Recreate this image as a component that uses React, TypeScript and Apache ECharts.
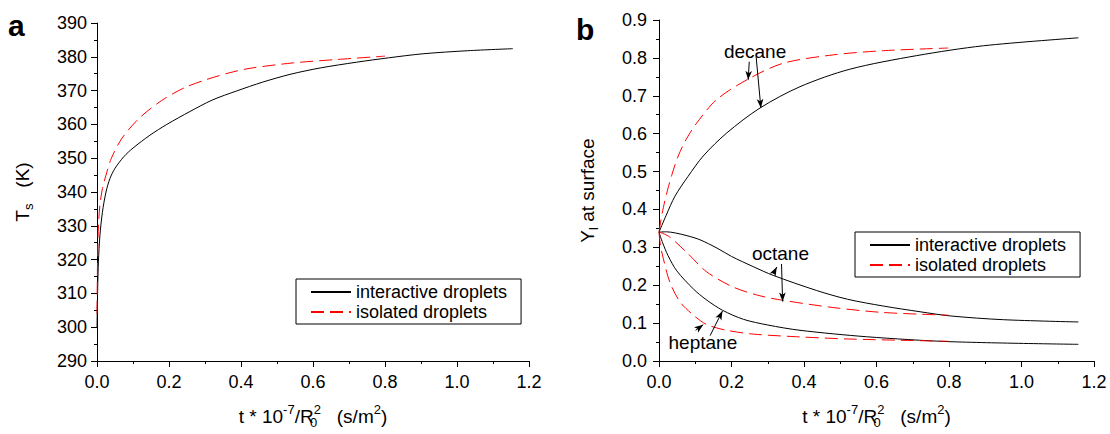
import React, { useEffect, useRef } from 'react';
import * as echarts from 'echarts';

const FONT = '"Liberation Sans", Arial, sans-serif';

// ---- Panel a: surface temperature ----
const tempInterT = [0, 0.002, 0.004, 0.008, 0.015, 0.025, 0.036, 0.05, 0.075, 0.1, 0.147, 0.194, 0.258, 0.32, 0.388, 0.46, 0.536, 0.62, 0.721, 0.81, 0.906, 1.03, 1.155];
const tempInterV = [300, 312, 319.5, 327, 334, 340, 344, 347, 350.5, 353, 356.8, 360, 363.8, 367.2, 369.9, 372.5, 374.8, 376.7, 378.4, 379.7, 380.9, 381.8, 382.4];
const tempIsoT = [0, 0.001, 0.002, 0.004, 0.008, 0.015, 0.025, 0.04, 0.07, 0.119, 0.18, 0.244, 0.305, 0.369, 0.425, 0.545, 0.666, 0.8];
const tempIsoV = [304, 315, 323, 330, 336, 341, 345, 350, 356, 362, 367.1, 370.9, 373.3, 375.3, 376.6, 378.2, 379.2, 380.2];

// ---- Panel b: mass fraction at surface ----
const decInterT = [0, 0.02, 0.044, 0.08, 0.122, 0.187, 0.279, 0.389, 0.526, 0.711, 0.895, 1.157];
const decInterV = [0.34, 0.385, 0.435, 0.487, 0.541, 0.602, 0.668, 0.724, 0.77, 0.806, 0.832, 0.853];
const decIsoT = [0, 0.005, 0.012, 0.023, 0.035, 0.053, 0.075, 0.104, 0.159, 0.246, 0.343, 0.481, 0.619, 0.798];
const decIsoV = [0.34, 0.37, 0.405, 0.449, 0.49, 0.541, 0.585, 0.628, 0.69, 0.744, 0.786, 0.808, 0.819, 0.826];
const octInterT = [0, 0.02, 0.045, 0.08, 0.113, 0.16, 0.2, 0.26, 0.315, 0.435, 0.52, 0.619, 0.72, 0.803, 0.95, 1.157];
const octInterV = [0.34, 0.341, 0.338, 0.33, 0.32, 0.298, 0.276, 0.249, 0.226, 0.186, 0.163, 0.145, 0.13, 0.119, 0.109, 0.103];
const octIsoT = [0, 0.01, 0.03, 0.076, 0.132, 0.205, 0.279, 0.343, 0.481, 0.619, 0.798];
const octIsoV = [0.34, 0.337, 0.327, 0.287, 0.235, 0.195, 0.172, 0.16, 0.141, 0.128, 0.121];
const hepInterT = [0, 0.01, 0.025, 0.049, 0.095, 0.13, 0.175, 0.233, 0.3, 0.389, 0.573, 0.803, 1.157];
const hepInterV = [0.34, 0.312, 0.278, 0.238, 0.19, 0.162, 0.134, 0.11, 0.095, 0.081, 0.064, 0.051, 0.044];
const hepIsoT = [0, 0.004, 0.012, 0.03, 0.058, 0.095, 0.132, 0.187, 0.26, 0.38, 0.526, 0.798];
const hepIsoV = [0.34, 0.305, 0.27, 0.208, 0.156, 0.121, 0.096, 0.081, 0.071, 0.064, 0.058, 0.052];

const seriesNames = ['interactive droplets', 'isolated droplets'];

// annotations (data coordinates of panel b)
const annotationTexts = [
  { text: 'decane', t: 0.265, y: 0.816 },
  { text: 'octane', t: 0.335, y: 0.283 },
  { text: 'heptane', t: 0.121, y: 0.049 },
];
const annotationArrows = [
  [[0.249, 0.79], [0.246, 0.742]],
  [[0.268, 0.803], [0.281, 0.668]],
  [[0.315, 0.23], [0.325, 0.248]],
  [[0.338, 0.256], [0.341, 0.157]],
  [[0.101, 0.081], [0.122, 0.096]],
  [[0.141, 0.067], [0.175, 0.132]],
];

const zip = (xs: number[], ys: number[]) => xs.map((x, i) => [x, ys[i]]);

const BLACK = '#000000';
const RED = '#ff0000';
const DASH = [13, 6];

function lineSeries(name: string, data: number[][], idx: number, extra: any = {}) {
  const isRed = name === seriesNames[1];
  return {
    type: 'line',
    name,
    xAxisIndex: idx,
    yAxisIndex: idx,
    data,
    showSymbol: false,
    symbol: 'none',
    smooth: 0.3,
    lineStyle: { color: isRed ? RED : BLACK, width: 1, type: isRed ? DASH : 'solid' },
    itemStyle: { color: isRed ? RED : BLACK },
    z: isRed ? 3 : 2,
    ...extra,
  };
}

const richName = {
  n: { fontSize: 19, fontFamily: FONT, color: '#000', lineHeight: 26 },
  sp: { fontSize: 13, fontFamily: FONT, color: '#000', lineHeight: 13, verticalAlign: 'top' },
  sb: { fontSize: 13, fontFamily: FONT, color: '#000', lineHeight: 13, verticalAlign: 'bottom' },
  sb0: { fontSize: 13, fontFamily: FONT, color: '#000', lineHeight: 13, verticalAlign: 'bottom', width: 0.1, align: 'left' },
};

const xName = '{n|t * 10}{sp|-7}{n|/R}{sb0|0}{sp|2}{n|   (s/m}{sp|2}{n|)}';

const legendCommon = {
  orient: 'vertical',
  data: seriesNames,
  borderColor: '#000',
  borderWidth: 1,
  padding: [4, 14, 3, 14],
  itemWidth: 40,
  itemHeight: 14,
  itemGap: 2,
  itemStyle: { color: 'rgba(0,0,0,0)', borderColor: 'rgba(0,0,0,0)', borderWidth: 0, opacity: 0 },
  textStyle: { fontSize: 18, color: '#000', fontFamily: FONT },
};

function xAxisCfg(gridIndex: number) {
  return {
    type: 'value',
    gridIndex,
    min: 0,
    max: 1.2,
    interval: 0.2,
    name: xName,
    nameLocation: 'middle',
    nameGap: 42,
    nameTextStyle: { rich: richName },
    axisLine: { show: true, onZero: false, lineStyle: { color: '#000', width: 1 } },
    axisTick: { show: true, length: 6, lineStyle: { color: '#000' } },
    minorTick: { show: true, splitNumber: 2, length: 3, lineStyle: { color: '#000' } },
    splitLine: { show: false },
    axisLabel: { color: '#000', fontSize: 18, fontFamily: FONT, margin: 12, formatter: (v: number) => v.toFixed(1) },
  };
}

export default function App() {
  const ref = useRef<HTMLDivElement>(null);
  useEffect(() => {
    if (!ref.current) return;
    const chart = echarts.init(ref.current, null, { renderer: 'svg' });
    const option: any = {
      animation: false,
      backgroundColor: '#fff',
      textStyle: { fontFamily: FONT },
      grid: [
        { left: 97, top: 23, width: 432, height: 340 },
        { left: 659, top: 20, width: 435, height: 343 },
      ],
      xAxis: [xAxisCfg(0), xAxisCfg(1)],
      yAxis: [
        {
          type: 'value', gridIndex: 0, min: 290, max: 390, interval: 10,
          name: '{n|T}{sb|s}{n|   (K)}', nameLocation: 'middle', nameGap: 62, nameRotate: 90,
          nameTextStyle: { rich: richName },
          axisLine: { show: true, onZero: false, lineStyle: { color: '#000', width: 1 } },
          axisTick: { show: true, length: 6, lineStyle: { color: '#000' } },
          minorTick: { show: true, splitNumber: 2, length: 3, lineStyle: { color: '#000' } },
          splitLine: { show: false },
          axisLabel: { color: '#000', fontSize: 18, fontFamily: FONT, margin: 10 },
        },
        {
          type: 'value', gridIndex: 1, min: 0, max: 0.9, interval: 0.1,
          name: '{n|Y}{sb|l}{n| at surface}', nameLocation: 'middle', nameGap: 59, nameRotate: 90,
          nameTextStyle: { rich: richName },
          axisLine: { show: true, onZero: false, lineStyle: { color: '#000', width: 1 } },
          axisTick: { show: true, length: 6, lineStyle: { color: '#000' } },
          minorTick: { show: true, splitNumber: 2, length: 3, lineStyle: { color: '#000' } },
          splitLine: { show: false },
          axisLabel: { color: '#000', fontSize: 18, fontFamily: FONT, margin: 12, formatter: (v: number) => v.toFixed(1) },
        },
      ],
      legend: [
        { ...legendCommon, left: 296, top: 279 },
        { ...legendCommon, left: 855, top: 232 },
      ],
      graphic: [
        { type: 'text', left: 8, top: 10, style: { text: 'a', font: `bold 30px ${FONT}`, fill: '#000' } },
        { type: 'text', left: 576, top: 14, style: { text: 'b', font: `bold 30px ${FONT}`, fill: '#000' } },
      ],
      series: [
        lineSeries(seriesNames[0], zip(tempInterT, tempInterV), 0),
        lineSeries(seriesNames[1], zip(tempIsoT, tempIsoV), 0),
        lineSeries(seriesNames[0], zip(decInterT, decInterV), 1, {
          markLine: {
            silent: true,
            symbol: ['none', 'arrow'],
            symbolSize: [5, 9],
            label: { show: false },
            lineStyle: { color: '#000', width: 1, type: 'solid' },
            data: annotationArrows.map(([a, b]) => [{ coord: a }, { coord: b }]),
          },
          markPoint: {
            silent: true,
            symbol: 'circle',
            symbolSize: 1,
            itemStyle: { color: 'rgba(0,0,0,0)' },
            label: { show: true, position: 'inside', color: '#000', fontSize: 19, fontFamily: FONT },
            data: annotationTexts.map((a) => ({ coord: [a.t, a.y], value: a.text, label: { formatter: a.text } })),
          },
        }),
        lineSeries(seriesNames[1], zip(decIsoT, decIsoV), 1),
        lineSeries(seriesNames[0], zip(octInterT, octInterV), 1),
        lineSeries(seriesNames[1], zip(octIsoT, octIsoV), 1),
        lineSeries(seriesNames[0], zip(hepInterT, hepInterV), 1),
        lineSeries(seriesNames[1], zip(hepIsoT, hepIsoV), 1),
      ],
    };
    chart.setOption(option);
    return () => chart.dispose();
  }, []);
  return <div ref={ref} style={{ width: 1110, height: 434, position: 'absolute', left: 0, top: 0 }} />;
}
